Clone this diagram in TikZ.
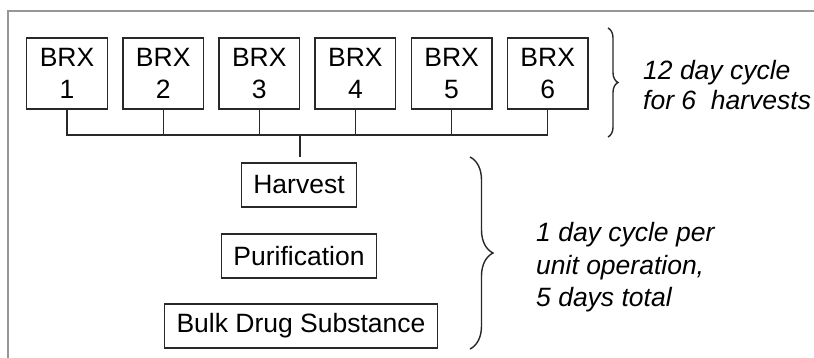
\documentclass[tikz,border=0pt]{standalone}
\usepackage{fontspec}
\setmainfont{Liberation Sans}
\usepackage{tikz}
\usepackage{xcolor}
\usetikzlibrary{decorations.pathreplacing}
\definecolor{framegray}{RGB}{150,150,150}
\definecolor{linegray}{RGB}{40,40,40}

\begin{document}
\begin{tikzpicture}[x=1pt, y=-1pt,
            reactor/.style={rectangle, draw=linegray, line width=1.4pt, minimum width=80.5pt, minimum height=71pt, align=center, inner sep=0pt, font=\fontsize{26.5}{32}\selectfont},
            stage/.style={rectangle, draw=linegray, line width=1.4pt, minimum height=44pt, inner xsep=12pt, inner ysep=0pt, font=\fontsize{26.5}{32}\selectfont},
            link/.style={draw=linegray, line width=1.4pt},
            curly/.style={draw=linegray, decorate, decoration={brace, amplitude=#1}, line width=1.4pt},
            note/.style={anchor=west, align=left, inner sep=0pt, font=\fontsize{26.5}{#1}\selectfont\itshape}
        ]
            \useasboundingbox (0,0) rectangle (814,358);

            % Gray frame, top and left edges only
            \coordinate (frame_corner) at (8,11);
            \draw[framegray, line width=2pt] (814,11) -- (frame_corner) -- (8,358);

            % Bioreactors
            \node[reactor] (brx1) at (67,73.5) {BRX\\1};
            \node[reactor] (brx2) at (163.2,73.5) {BRX\\2};
            \node[reactor] (brx3) at (259.3,73.5) {BRX\\3};
            \node[reactor] (brx4) at (355.4,73.5) {BRX\\4};
            \node[reactor] (brx5) at (451.6,73.5) {BRX\\5};
            \node[reactor] (brx6) at (547.7,73.5) {BRX\\6};

            % Downstream unit operations
            \node[stage] (harvest) at (299,185) {Harvest};
            \node[stage] (purification) at (299,256) {Purification};
            \node[stage] (bds) at (301,326) {Bulk Drug Substance};

            % Collecting line from the bioreactors to harvest
            \coordinate (bus) at (300,135);
            \draw[link] (brx1.south) -- (brx1.south |- bus) -- (brx6.south |- bus) -- (brx6.south);
            \draw[link] (brx2.south) -- (brx2.south |- bus);
            \draw[link] (brx3.south) -- (brx3.south |- bus);
            \draw[link] (brx4.south) -- (brx4.south |- bus);
            \draw[link] (brx5.south) -- (brx5.south |- bus);
            \draw[link, shorten >=5pt] (bus) -- (bus |- harvest.north);

            % Braces and cycle notes
            \coordinate (upstream_top) at (608,28);
            \coordinate (upstream_bottom) at (608,137);
            \draw[curly=10pt] (upstream_top) -- (upstream_bottom);
            \node[note=30] (upstream_note) at (643,85.5) {12 day cycle\\for 6\ \ harvests};

            \coordinate (downstream_top) at (470,157);
            \coordinate (downstream_bottom) at (470,349);
            \draw[curly=23pt] (downstream_top) -- (downstream_bottom);
            \node[note=32.5] (downstream_note) at (536,267.5) {1 day cycle per\\unit operation,\\5 days total};
        \end{tikzpicture}
\end{document}
